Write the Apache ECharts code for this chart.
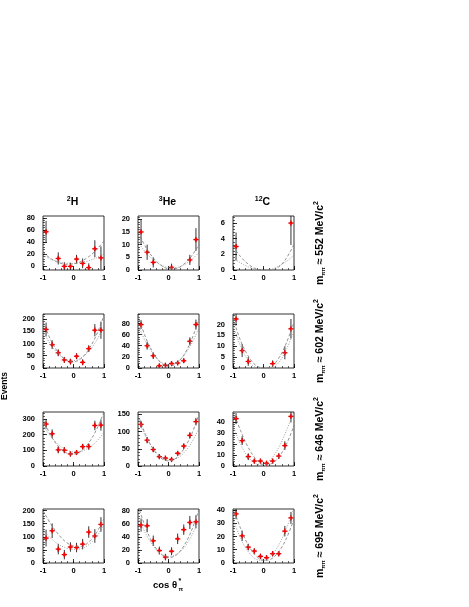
<!DOCTYPE html>
<html><head><meta charset="utf-8">
<script src="https://cdn.jsdelivr.net/npm/echarts@6/dist/echarts.min.js"></script>
<style>html,body{margin:0;padding:0;background:#fff}#c{width:469px;height:607px}</style>
</head><body><div id="c"></div>
<script>
// ---------- data ----------
const cosBins = [-0.9,-0.7,-0.5,-0.3,-0.1,0.1,0.3,0.5,0.7,0.9];
const curveX  = [-1,-0.75,-0.5,-0.25,0,0.25,0.5,0.75,1];
const nucleusA   = ['2','3','12'];
const nucleusSym = ['H','He','C'];
const massMeV = [552,602,646,695];
const xTickLabels = [-1,0,1];

// m = 552
const H552 = [57,null,13,0,0,12,5,-2,29,14];
const H552err = [18,null,10,7,6,7,8,7,14,19];
const He552 = [15,7,3,null,null,1,null,null,4,12];
const He552err = [5,3,2,null,null,1.5,null,null,2,4.5];
const C552 = [3,null,null,null,null,null,null,null,null,6];
const C552err = [1.8,null,null,null,null,null,null,null,null,2.8];
const H552A = [23,13,6.4,3.4,4,8.2,16,27,42];
const H552B = [18,12,7.9,5.5,5,6.3,9.4,14,21];
const He552A = [15,9.1,4.8,1.9,0.5,0.6,2.3,5.4,10];
const He552B = [11,7,4,2,1,1,2,4,7];
const C552A = [3.0,1.7,0.75,0.15,0,0,0.4,1.5,3.3];
const C552B = [1.6,0.9,0.4,0.1,0,0.1,0.5,1.1,1.9];

// m = 602
const H602 = [157,95,62,33,26,48,23,79,154,154];
const H602err = [28,18,14,12,12,12,12,14,25,35];
const He602 = [78,40,22,4,5,8,9,13,48,78];
const He602err = [8,7,6,3,3,3,3,4,7,9];
const C602 = [22.5,8,3,null,null,null,2,null,7,18];
const C602err = [3,3,2,null,null,null,1.5,null,3,4.5];
const H602A = [190,115,63,33,25,39,76,134,215];
const H602B = [150,96,58,36,30,41,68,111,170];
const He602A = [95,55,27,9.4,3,7.6,23,50,88];
const He602B = [78,47,25,11,6,9.6,22,43,72];
const C602A = [23,12.5,5.5,1.2,0,0.6,4.5,11.5,21];
const C602B = [20,10,3.5,0.3,0,0,2.5,8.5,17];

// m = 646
const H646 = [268,206,103,101,77,86,124,124,259,261];
const H646err = [30,28,22,20,16,16,18,20,30,35];
const He646 = [121,75,48,27,23,19,37,58,89,129];
const He646err = [10,9,8,6,5,5,6,7,9,11];
const C646 = [43,23,8.5,4.5,4.5,2.5,4.5,9,18.5,45];
const C646err = [5,4,3,2,2,1.5,2,2.5,4,5.5];
const H646A = [300,197,126,85,75,96,148,231,345];
const H646B = [260,190,138,105,90,94,116,156,215];
const He646A = [150,91,49,23,15,23,49,91,150];
const He646B = [135,86,50,28,18,21,38,67,110];
const C646A = [50,32,16.8,6.4,1.4,2,8,19.6,36.6];
const C646B = [36.6,19.6,8,2,1.4,6.4,16.8,32,50];

// m = 695
const H695 = [95,123,53,32,61,59,72,118,103,147];
const H695err = [32,28,20,18,18,18,20,22,26,28];
const He695 = [58,57,34,19,9,18,37,51,62,63];
const He695err = [10,10,8,6,5,6,8,8,10,10];
const C695 = [37,20.5,12,9,5,4,7,7,24,34];
const C695err = [4,4,2.5,2,2,1.5,2,2,4,4.5];
const H695A = [200,150,110,80,65,63,80,115,170];
const H695B = [125,95,72,58,52,55,70,100,145];
const He695A = [88,54,29,14,8,12,26,49,82];
const He695B = [72,45,26,14,10,13,23,41,66];
const C695A = [42,26,13.5,5.5,2,3,8.5,18.5,33];
const C695B = [33,18.5,8.5,3,2,5.5,13.5,26,42];

// axis ranges and tick labels
const yRange552 = [[-6,83],[0,21.3],[0,6.9]];
const yRange602 = [[0,220],[0,97],[0,24.8]];
const yRange646 = [[0,345],[0,157],[0,49]];
const yRange695 = [[0,206],[0,82.6],[0,40.7]];
const yLabels552 = [[0,20,40,60,80],[0,5,10,15,20],[0,2,4,6]];
const yLabels602 = [[0,50,100,150,200],[0,20,40,60,80],[0,5,10,15,20]];
const yLabels646 = [[0,100,200,300],[0,50,100,150],[0,10,20,30,40]];
const yLabels695 = [[0,50,100,150,200],[0,20,40,60,80],[0,10,20,30,40]];

const rowsData = [
  {vals:[H552,He552,C552], errs:[H552err,He552err,C552err], A:[H552A,He552A,C552A], B:[H552B,He552B,C552B], range:yRange552, labels:yLabels552},
  {vals:[H602,He602,C602], errs:[H602err,He602err,C602err], A:[H602A,He602A,C602A], B:[H602B,He602B,C602B], range:yRange602, labels:yLabels602},
  {vals:[H646,He646,C646], errs:[H646err,He646err,C646err], A:[H646A,He646A,C646A], B:[H646B,He646B,C646B], range:yRange646, labels:yLabels646},
  {vals:[H695,He695,C695], errs:[H695err,He695err,C695err], A:[H695A,He695A,C695A], B:[H695B,He695B,C695B], range:yRange695, labels:yLabels695}
];

// ---------- layout ----------
const FONT = '"Liberation Sans", Arial, Helvetica, sans-serif';
const colLeft = [43,138,233];
const rowTop = [216,314,412,509];
const PW = 61, PH = 54;

function rnd(v){ return Math.round(v*10000)/10000; }
function minorTicks(min,max,step){
  const out=[]; const s0=Math.ceil(min/step-1e-9);
  for(let k=s0; k*step<=max+1e-9; k++) out.push(rnd(k*step));
  return out;
}

const grid=[], xAxis=[], yAxis=[], series=[];
const labelStyle = {fontSize:7.5, fontWeight:'bold', color:'#000', fontFamily:FONT};
const noLine = {show:false, onZero:false};

rowsData.forEach((rd,r)=>{
  for(let c=0;c<3;c++){
    const gi = grid.length;
    grid.push({left:colLeft[c], top:rowTop[r], width:PW, height:PH, show:true, borderColor:'#000', borderWidth:0.8, backgroundColor:'transparent', containLabel:false});
    const [ymin,ymax] = rd.range[c];
    const labs = rd.labels[c];
    const yMinor = minorTicks(ymin,ymax,(labs[1]-labs[0])/5);
    const xMinor = minorTicks(-1,1,0.2);
    xAxis.push({gridIndex:gi, type:'value', min:-1, max:1, position:'bottom', offset:0,
      axisLine:noLine, splitLine:{show:false},
      axisLabel:Object.assign({customValues:xTickLabels, margin:4}, labelStyle),
      axisTick:{customValues:xTickLabels, inside:true, length:4, lineStyle:{color:'#000',width:0.8}}});
    xAxis.push({gridIndex:gi, type:'value', min:-1, max:1, position:'bottom', offset:0,
      axisLine:noLine, splitLine:{show:false},
      axisLabel:{show:false, customValues:xMinor},
      axisTick:{customValues:xMinor, inside:true, length:2, lineStyle:{color:'#000',width:0.6}}});
    yAxis.push({gridIndex:gi, type:'value', min:ymin, max:ymax, position:'left', offset:0,
      axisLine:noLine, splitLine:{show:false},
      axisLabel:Object.assign({customValues:labs, margin:8}, labelStyle),
      axisTick:{customValues:labs, inside:true, length:4, lineStyle:{color:'#000',width:0.8}}});
    yAxis.push({gridIndex:gi, type:'value', min:ymin, max:ymax, position:'left', offset:0,
      axisLine:noLine, splitLine:{show:false},
      axisLabel:{show:false, customValues:yMinor},
      axisTick:{customValues:yMinor, inside:true, length:2, lineStyle:{color:'#000',width:0.6}}});
    const xi = 2*gi, yi = 2*gi;
    series.push({type:'line', xAxisIndex:xi, yAxisIndex:yi, data:curveX.map((x,i)=>[x,rd.A[c][i]]),
      smooth:0.35, symbol:'none', clip:true, silent:true,
      lineStyle:{color:'#777', width:0.8, type:[3,2]}});
    series.push({type:'line', xAxisIndex:xi, yAxisIndex:yi, data:curveX.map((x,i)=>[x,rd.B[c][i]]),
      smooth:0.35, symbol:'none', clip:true, silent:true,
      lineStyle:{color:'#888', width:0.8, type:[1,1.5]}});
    const pts=[];
    cosBins.forEach((x,i)=>{ const v=rd.vals[c][i]; if(v!==null && v!==undefined) pts.push([x,v,rd.errs[c][i]]); });
    series.push({type:'custom', xAxisIndex:xi, yAxisIndex:yi, data:pts, clip:true, silent:true,
      renderItem:function(params,api){
        const x=api.value(0), y=api.value(1), e=api.value(2);
        const p=api.coord([x,y]), t=api.coord([x,y+e]), b=api.coord([x,y-e]);
        return {type:'group', children:[
          {type:'line', shape:{x1:p[0],y1:t[1],x2:p[0],y2:b[1]}, style:{stroke:'#000',lineWidth:0.8}},
          {type:'line', shape:{x1:p[0]-2.6,y1:p[1],x2:p[0]+2.6,y2:p[1]}, style:{stroke:'#e00000',lineWidth:1.3}},
          {type:'line', shape:{x1:p[0],y1:p[1]-2.6,x2:p[0],y2:p[1]+2.6}, style:{stroke:'#e00000',lineWidth:1.3}},
          {type:'rect', shape:{x:p[0]-1.2,y:p[1]-1.2,width:2.4,height:2.4}, style:{fill:'#ff0000'}}
        ]};
      }});
  }
});

// ---------- texts ----------
const graphic=[];
const titleRich = {
  m:{fontSize:10.5, fontWeight:'bold', fontFamily:FONT, fill:'#000'},
  s:{fontSize:7, fontWeight:'bold', fontFamily:FONT, fill:'#000', padding:[0,0,6,0]}
};
nucleusA.forEach((a,c)=>{
  graphic.push({type:'text', x:colLeft[c]+PW/2-1, y:202, silent:true,
    style:{text:'{s|'+a+'}{m|'+nucleusSym[c]+'}', rich:titleRich, align:'center', verticalAlign:'middle'}});
});
const rowRich = {
  m:{fontSize:10.5, fontWeight:'bold', fontFamily:FONT, fill:'#000'},
  b:{fontSize:5.5, fontWeight:'bold', fontFamily:FONT, fill:'#000', padding:[7,0,0,0]},
  s:{fontSize:7, fontWeight:'bold', fontFamily:FONT, fill:'#000', padding:[0,0,7,0]}
};
massMeV.forEach((m,r)=>{
  graphic.push({type:'text', x:320, y:rowTop[r]+PH/2, rotation:Math.PI/2, silent:true,
    style:{text:'{m|m}{b|ππ}{m| ≈ '+m+' MeV/c}{s|2}', rich:rowRich, align:'center', verticalAlign:'middle'}});
});
graphic.push({type:'text', x:5, y:386, rotation:Math.PI/2, silent:true,
  style:{text:'Events', fontSize:8.5, fontWeight:'bold', fontFamily:FONT, fill:'#000', align:'center', verticalAlign:'middle'}});
graphic.push({type:'text', x:153, y:585, silent:true,
  style:{text:'cos θ', fontSize:9.5, fontWeight:'bold', fontFamily:FONT, fill:'#000', align:'left', verticalAlign:'middle'}});
graphic.push({type:'text', x:178.5, y:581, silent:true,
  style:{text:'*', fontSize:7, fontWeight:'bold', fontFamily:FONT, fill:'#000', align:'left', verticalAlign:'middle'}});
graphic.push({type:'text', x:178.5, y:589, silent:true,
  style:{text:'π', fontSize:6, fontWeight:'bold', fontFamily:FONT, fill:'#000', align:'left', verticalAlign:'middle'}});

const chart = echarts.init(document.getElementById('c'), null, {renderer:'canvas'});
chart.setOption({animation:false, backgroundColor:'#fff', grid, xAxis, yAxis, series, graphic});
</script></body></html>
